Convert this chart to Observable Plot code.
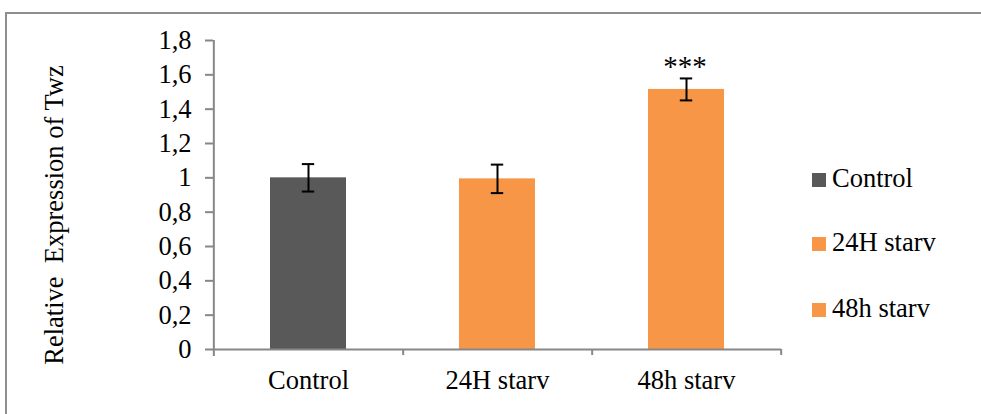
<!DOCTYPE html>
<html>
<head>
<meta charset="utf-8">
<script src="https://cdn.jsdelivr.net/npm/d3@7"></script>
<script src="https://cdn.jsdelivr.net/npm/@observablehq/plot@0.6"></script>
<style>
  html, body { margin: 0; padding: 0; background: #fff; overflow: hidden; }
  #wrap { position: relative; width: 981px; height: 414px; overflow: hidden; font-family: "Liberation Serif", "Times New Roman", serif; }
  #frame { position: absolute; left: 5px; top: 12px; width: 1000px; height: 420px; border-top: 2px solid #8e8e8e; border-left: 2px solid #8e8e8e; box-sizing: border-box; }
  #chart { position: absolute; left: 0; top: 0; }
  #ylabel { position: absolute; left: 54px; top: 215px; transform: translate(-50%, -50%) rotate(-90deg); white-space: pre; font-size: 26.5px; color: #000; }
  .legend-item { position: absolute; left: 812px; height: 30px; line-height: 30px; font-size: 26.5px; color: #000; white-space: nowrap; }
  .legend-item .sw { position: absolute; left: 0; top: 10px; width: 14px; height: 14px; }
  .legend-item .lb { position: absolute; left: 20px; top: 0; }
</style>
</head>
<body>
<div id="wrap">
  <div id="frame"></div>
  <div id="chart"></div>
  <div id="ylabel"></div>
</div>
<script>
const categories = ["Control", "24H starv", "48h starv"];
const values = [1.0, 0.994, 1.515];
const errors = [0.08, 0.083, 0.064];
const colors = ["#595959", "#F79646", "#F79646"];
const significance = ["", "", "***"];
const yTicks = [0, 0.2, 0.4, 0.6, 0.8, 1.0, 1.2, 1.4, 1.6, 1.8];
const yLabel = "Relative  Expression of Twz";
const legendTops = [163, 227, 293];

const data = categories.map((c, i) => ({
  cat: c, value: values[i], lo: values[i] - errors[i], hi: values[i] + errors[i],
  color: colors[i], sig: significance[i]
}));

const W = 981, H = 414, ML = 213, MR = 200, MT = 40, MB = 65;
const step = (W - ML - MR) / categories.length;
const axisGray = "#878787";

const chart = Plot.plot({
  width: W, height: H,
  marginLeft: ML, marginRight: MR, marginTop: MT, marginBottom: MB,
  style: { fontFamily: "Liberation Serif, Times New Roman, serif", fontSize: "26.5px", background: "transparent", color: "#000" },
  x: { domain: categories, paddingInner: 0.6, paddingOuter: 0.3, axis: null, label: null },
  y: { domain: [0, 1.8], axis: null, label: null },
  color: { type: "identity" },
  marks: [
    Plot.barY(data, { x: "cat", y: "value", fill: "color" }),
    Plot.ruleY([0], { stroke: axisGray, strokeWidth: 2 }),
    Plot.ruleX([categories[0]], { x: d => d, dx: -step / 2, y1: 1.8, y2: 0, insetBottom: -7, stroke: axisGray, strokeWidth: 2 }),
    Plot.ruleX(categories, { x: d => d, dx: step / 2, y1: 0, y2: 0, insetBottom: -6, stroke: axisGray, strokeWidth: 2 }),
    Plot.axisY({ ticks: yTicks, tickSize: 8, tickPadding: 14, stroke: axisGray, strokeWidth: 2, fill: "#000", fontSize: 26.5, label: null,
      tickFormat: d => String(+d.toFixed(1)).replace(".", ",") }),
    Plot.axisX({ tickSize: 0, tickPadding: 21, fill: "#000", fontSize: 26.5, label: null }),
    Plot.ruleX(data, { x: "cat", y1: "lo", y2: "hi", stroke: "#000", strokeWidth: 2 }),
    Plot.tickY(data, { x: "cat", y: "lo", stroke: "#000", strokeWidth: 2, insetLeft: 31.8, insetRight: 31.8 }),
    Plot.tickY(data, { x: "cat", y: "hi", stroke: "#000", strokeWidth: 2, insetLeft: 31.8, insetRight: 31.8 }),
    Plot.text(data.filter(d => d.sig), { x: "cat", y: "hi", text: "sig", lineAnchor: "bottom", dy: -2, dx: -1.5, fontSize: 29, fill: "#000", ariaLabel: "significance" })
  ]
});
document.getElementById("chart").appendChild(chart);
d3.select(chart).selectAll('g[aria-label="significance"] text').attr("letter-spacing", "3px");

document.getElementById("ylabel").textContent = yLabel;

const wrap = document.getElementById("wrap");
categories.forEach((c, i) => {
  const item = document.createElement("div");
  item.className = "legend-item";
  item.style.top = legendTops[i] + "px";
  const sw = document.createElement("span");
  sw.className = "sw";
  sw.style.background = colors[i];
  const lb = document.createElement("span");
  lb.className = "lb";
  lb.textContent = c;
  item.appendChild(sw);
  item.appendChild(lb);
  wrap.appendChild(item);
});
</script>
</body>
</html>
